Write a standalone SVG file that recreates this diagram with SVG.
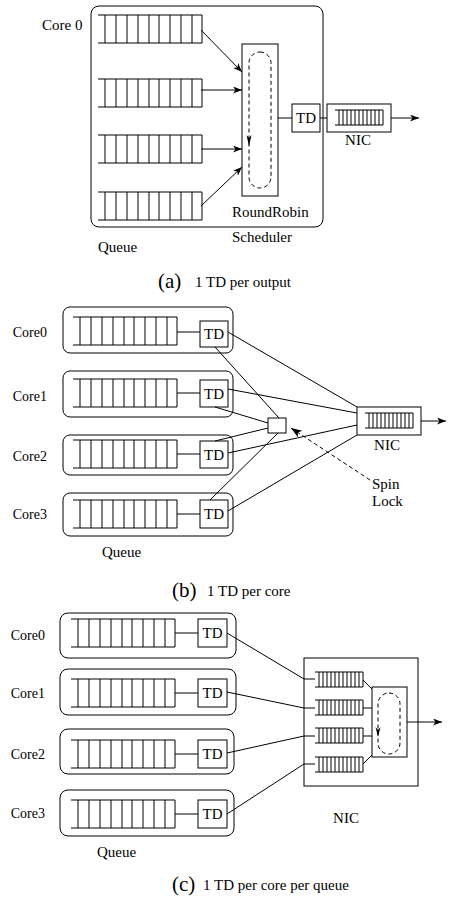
<svg xmlns="http://www.w3.org/2000/svg" width="449" height="897" viewBox="0 0 449 897">
<style>
.t{font-family:'Liberation Serif','DejaVu Serif','Times New Roman',serif;font-size:15px;fill:#000}
.c{font-size:14px}
.cap{font-size:21px}
.box{fill:none;stroke:#000;stroke-width:1}
.ln{fill:none;stroke:#000;stroke-width:1}
.dash{fill:none;stroke:#000;stroke-width:1;stroke-dasharray:4 3}
.ah{fill:#000;stroke:none}
</style>
<defs>
<path id="q" class="ln" d="M0,0H104M0,28H104M7,0V28M18,0V28M29,0V28M40,0V28M51,0V28M61,0V28M72,0V28M83,0V28M94,0V28M104,0V28"/>
<path id="nq" class="ln" d="M0,0H48M0,15H48M4,0V15M8,0V15M12,0V15M16,0V15M20,0V15M24,0V15M28,0V15M32,0V15M36,0V15M40,0V15M44,0V15M48,0V15"/>
<marker id="arr" markerUnits="userSpaceOnUse" markerWidth="10" markerHeight="8" refX="9" refY="3.5" orient="auto" viewBox="0 0 10 8">
<path d="M0,0 L9,3.5 L0,7 L2.5,3.5 z" fill="#000"/>
</marker>
<marker id="arr2" markerUnits="userSpaceOnUse" markerWidth="12" markerHeight="9" refX="11" refY="4" orient="auto" viewBox="0 0 12 9">
<path d="M0,0 L11,4 L0,8 L3,4 z" fill="#000"/>
</marker>
</defs>
<rect width="449" height="897" fill="#fff"/>
<g font-family="Liberation Serif, DejaVu Serif, serif">

<!-- ===== (a) ===== -->
<g id="a-core0">
<rect class="box" x="91" y="6" width="232" height="221" rx="8"/>
<text class="t" x="42" y="30">Core 0</text>
<use href="#q" x="98" y="15"/>
<use href="#q" x="98" y="79"/>
<use href="#q" x="98" y="135"/>
<use href="#q" x="98" y="192"/>
<text class="t" x="98" y="252">Queue</text>
</g>
<g id="a-scheduler">
<rect class="box" x="242" y="44" width="36" height="152"/>
<rect class="dash" x="249" y="52" width="22" height="136" rx="11"/>
<path class="ah" d="M246.5,135 L249,146 L251.5,135 L249,138 z"/>
<text class="t" x="232" y="217">RoundRobin</text>
<text class="t" x="232" y="242">Scheduler</text>
</g>
<g id="a-td">
<rect class="box" x="292" y="104" width="28" height="28"/>
<text class="t" x="306" y="123" text-anchor="middle">TD</text>
</g>
<g id="a-nic">
<rect class="box" x="327" y="104" width="64" height="28"/>
<use href="#nq" x="335" y="110"/>
<text class="t" x="358" y="145" text-anchor="middle">NIC</text>
</g>
<g id="a-caption">
<text class="t cap" x="158" y="288">(a)</text>
<text class="t" x="195" y="287">1 TD per output</text>
</g>

<!-- ===== (b) ===== -->
<g id="b-core0">
<text class="t c" x="47" y="337" text-anchor="end">Core0</text>
<rect class="box" x="63" y="307" width="170" height="46" rx="7"/>
<use href="#q" x="73" y="317"/>
<rect class="box" x="200" y="321" width="28" height="26"/>
<text class="t" x="214" y="339" text-anchor="middle">TD</text>
</g>
<g id="b-core1">
<text class="t c" x="47" y="401" text-anchor="end">Core1</text>
<rect class="box" x="63" y="371" width="170" height="46" rx="7"/>
<use href="#q" x="73" y="379"/>
<rect class="box" x="200" y="380" width="28" height="27"/>
<text class="t" x="214" y="399" text-anchor="middle">TD</text>
</g>
<g id="b-core2">
<text class="t c" x="47" y="461" text-anchor="end">Core2</text>
<rect class="box" x="63" y="435" width="170" height="40" rx="7"/>
<use href="#q" x="73" y="440"/>
<rect class="box" x="200" y="441" width="28" height="27"/>
<text class="t" x="214" y="460" text-anchor="middle">TD</text>
</g>
<g id="b-core3">
<text class="t c" x="47" y="519" text-anchor="end">Core3</text>
<rect class="box" x="63" y="493" width="170" height="43" rx="7"/>
<use href="#q" x="73" y="500"/>
<rect class="box" x="200" y="500" width="28" height="28"/>
<text class="t" x="214" y="519" text-anchor="middle">TD</text>
</g>
<g id="b-spinlock">
<rect class="box" x="268" y="418" width="18" height="15"/>
<text class="t" x="372" y="489">Spin</text>
<text class="t" x="372" y="506">Lock</text>
</g>
<g id="b-nic">
<rect class="box" x="357" y="407" width="64" height="28"/>
<use href="#nq" x="365" y="413"/>
<text class="t" x="387" y="450" text-anchor="middle">NIC</text>
</g>
<g id="b-labels">
<text class="t" x="102" y="557">Queue</text>
<text class="t cap" x="172" y="597">(b)</text>
<text class="t" x="207" y="596">1 TD per core</text>
</g>

<!-- ===== (c) ===== -->
<g id="c-core0">
<text class="t c" x="45" y="640" text-anchor="end">Core0</text>
<rect class="box" x="60" y="613" width="176" height="45" rx="8"/>
<use href="#q" x="71" y="619"/>
<rect class="box" x="198" y="619" width="29" height="28"/>
<text class="t" x="212.5" y="638" text-anchor="middle">TD</text>
</g>
<g id="c-core1">
<text class="t c" x="45" y="698" text-anchor="end">Core1</text>
<rect class="box" x="60" y="669" width="176" height="46" rx="8"/>
<use href="#q" x="71" y="679"/>
<rect class="box" x="198" y="679" width="29" height="28"/>
<text class="t" x="212.5" y="698" text-anchor="middle">TD</text>
</g>
<g id="c-core2">
<text class="t c" x="45" y="759" text-anchor="end">Core2</text>
<rect class="box" x="60" y="729" width="174" height="45" rx="8"/>
<use href="#q" x="71" y="740"/>
<rect class="box" x="198" y="740" width="29" height="28"/>
<text class="t" x="212.5" y="759" text-anchor="middle">TD</text>
</g>
<g id="c-core3">
<text class="t c" x="45" y="818" text-anchor="end">Core3</text>
<rect class="box" x="60" y="790" width="174" height="46" rx="8"/>
<use href="#q" x="71" y="800"/>
<rect class="box" x="198" y="800" width="29" height="28"/>
<text class="t" x="212.5" y="819" text-anchor="middle">TD</text>
</g>
<g id="c-nic">
<rect class="box" x="304" y="658" width="114" height="128"/>
<use href="#nq" x="315" y="672"/>
<use href="#nq" x="315" y="700"/>
<use href="#nq" x="315" y="728"/>
<use href="#nq" x="315" y="757"/>
<rect class="box" x="372" y="687" width="35" height="70"/>
<rect class="dash" x="378" y="693" width="22" height="61" rx="11"/>
<path class="ah" d="M375.5,727 L378,737 L380.5,727 L378,730 z"/>
<text class="t" x="346" y="823" text-anchor="middle">NIC</text>
</g>
<g id="c-labels">
<text class="t" x="97" y="857">Queue</text>
<text class="t cap" x="172" y="891">(c)</text>
<text class="t" x="203" y="890">1 TD per core per queue</text>
</g>
</g>

<!-- ===== connectors ===== -->
<g id="connectors" class="ln">
<line x1="201" y1="30" x2="242" y2="72" marker-end="url(#arr)"/>
<line x1="201" y1="90" x2="242" y2="90" marker-end="url(#arr)"/>
<line x1="201" y1="149" x2="242" y2="149" marker-end="url(#arr)"/>
<line x1="201" y1="206" x2="242" y2="167" marker-end="url(#arr)"/>
<line x1="278" y1="118" x2="292" y2="118"/>
<line x1="320" y1="118" x2="327" y2="118"/>
<line x1="391" y1="118" x2="419" y2="118" marker-end="url(#arr)"/>
<line x1="177" y1="332" x2="200" y2="332"/>
<line x1="177" y1="393" x2="200" y2="393"/>
<line x1="177" y1="454" x2="200" y2="454"/>
<line x1="177" y1="514" x2="200" y2="514"/>
<line x1="228" y1="332" x2="357" y2="407"/>
<line x1="215" y1="347" x2="279" y2="418"/>
<line x1="228" y1="389" x2="357" y2="413"/>
<line x1="215" y1="407" x2="268" y2="423"/>
<line x1="215" y1="441" x2="268" y2="428"/>
<line x1="228" y1="453" x2="357" y2="425"/>
<line x1="210" y1="500" x2="278" y2="433"/>
<line x1="228" y1="511" x2="357" y2="435"/>
<line x1="421" y1="421" x2="446" y2="421" marker-end="url(#arr)"/>
<line class="dash" x1="370" y1="480" x2="291" y2="428" marker-end="url(#arr2)"/>
<line x1="175" y1="633" x2="198" y2="633"/>
<line x1="175" y1="693" x2="198" y2="693"/>
<line x1="175" y1="754" x2="198" y2="754"/>
<line x1="175" y1="814" x2="198" y2="814"/>
<line x1="227" y1="633" x2="304" y2="679"/>
<line x1="227" y1="692" x2="304" y2="708"/>
<line x1="227" y1="753" x2="304" y2="736"/>
<line x1="227" y1="814" x2="304" y2="764"/>
<line x1="304" y1="679" x2="315" y2="679"/>
<line x1="304" y1="708" x2="315" y2="708"/>
<line x1="304" y1="736" x2="315" y2="736"/>
<line x1="304" y1="764" x2="315" y2="764"/>
<line x1="363" y1="680" x2="372" y2="689"/>
<line x1="363" y1="708" x2="372" y2="708"/>
<line x1="363" y1="736" x2="372" y2="736"/>
<line x1="363" y1="764" x2="372" y2="755"/>
<line x1="407" y1="722" x2="442" y2="722" marker-end="url(#arr)"/>
</g>
</svg>
